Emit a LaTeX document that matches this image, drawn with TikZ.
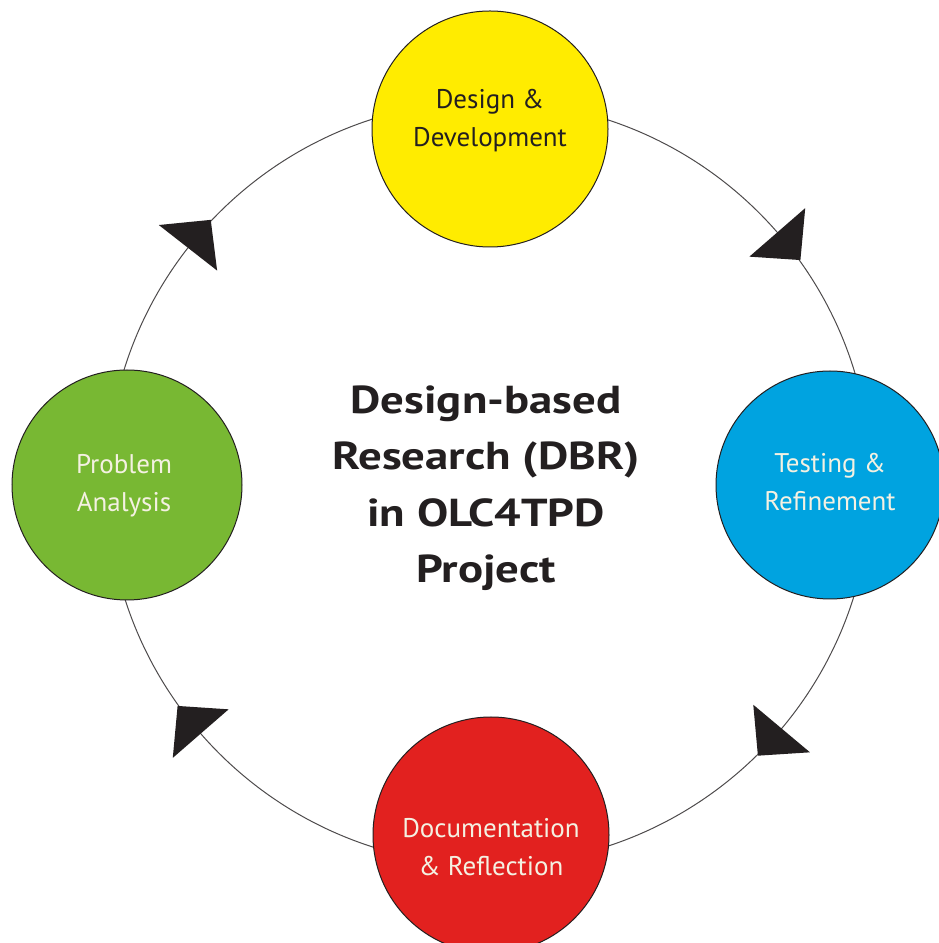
\documentclass[tikz,border=0pt]{standalone}
\usepackage{fontspec}
\setmainfont{PT Sans}
\newfontfamily\titlefont[FakeStretch=1.2]{PT Sans Bold}
\usetikzlibrary{calc}
\definecolor{ddyellow}{HTML}{FFEC00}
\definecolor{trblue}{HTML}{00A3E0}
\definecolor{pagreen}{HTML}{78B833}
\definecolor{drred}{HTML}{E2211F}
\definecolor{inkdark}{HTML}{231F20}
\definecolor{lighttext}{HTML}{F4F1E2}
\begin{document}
\begin{tikzpicture}[x=1pt,y=1pt,
  stage/.style={circle, draw=inkdark, line width=1pt, minimum size=234pt, inner sep=0pt},
  stagetext/.style={align=center, font=\fontsize{27}{38}\selectfont},
  ringline/.style={draw=inkdark!80, line width=1pt},
  arrowhead/.style={fill=inkdark},
  title/.style={align=center, text=inkdark, font=\titlefont\fontsize{39}{56.5}\selectfont}]
\useasboundingbox (0,0) rectangle (939,943);
\fill[white] (0,0) rectangle (939,943);
\clip (0,0) rectangle (939,943);
% ring
\coordinate (c) at (489,460);
\foreach \a/\b in {180/90, 90/0, 0/-90, -90/-180}
  \draw[ringline] ($(c)+(\a:382)$) arc[start angle=\a, end angle=\b, radius=382];
% arrowheads (clockwise flow)
\foreach \t in {142,41,-40,-139}
  \fill[arrowhead] ($(c)+(\t:345)$) -- ($(c)+(\t:419)$) -- ($(c)+(\t-5.4:383)$) -- cycle;
% stages
\node[stage, fill=ddyellow, minimum size=236pt] (dd) at (490,814) {};
\node[stagetext, text=inkdark] (ddt) at (490,822) {Design \&\\Development};
\node[stage, fill=trblue, minimum size=228pt] (tr) at (830,458) {};
\node[stagetext, text=lighttext] (trt) at (830,461) {Testing \&\\Refinement};
\node[stage, fill=pagreen, minimum size=230pt] (pa) at (127,458) {};
\node[stagetext, text=lighttext] (pat) at (124,457) {Problem\\Analysis};
\node[stage, fill=drred, minimum size=236pt] (dr) at (491,108) {};
\node[stagetext, text=lighttext] (drt) at (491,96) {Documentation\\\& Reflection};
% title
\node[title] (t) at (486,455) {Design-based\\Research (DBR)\\in OLC4TPD\\Project};
\end{tikzpicture}
\end{document}
